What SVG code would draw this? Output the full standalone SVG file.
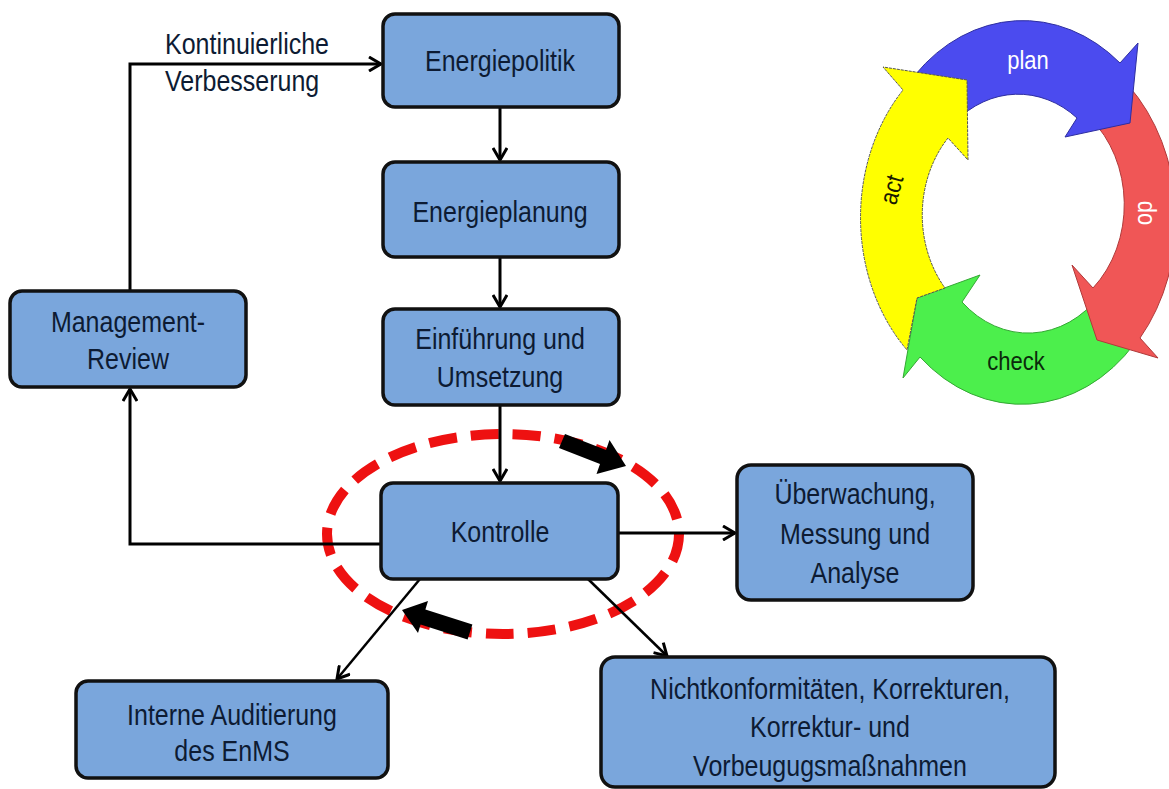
<svg xmlns="http://www.w3.org/2000/svg" width="1169" height="789" viewBox="0 0 1169 789">
<style>
.box{fill:#7aa6dc;stroke:#111;stroke-width:3.5}
.t{font-family:"Liberation Sans",Arial,sans-serif;font-size:25px;fill:#0d1b33;text-anchor:middle}
.c{fill:none;stroke:#000;stroke-width:3}
.cd{fill:none;stroke:#000;stroke-width:2.5}
.p{font-family:"Liberation Sans",Arial,sans-serif;font-size:22px;text-anchor:middle}
</style>
<defs>
<marker id="ah" markerUnits="userSpaceOnUse" viewBox="0 0 16 16" refX="14" refY="8" markerWidth="16" markerHeight="16" orient="auto">
<path d="M2,1 L14,8 L2,15" fill="none" stroke="#000" stroke-width="3"/>
</marker>
</defs>
<rect width="1169" height="789" fill="#fff"/>

<g id="focus">
<ellipse cx="503" cy="534" rx="176" ry="100" fill="none" stroke="#ee1111" stroke-width="10" stroke-dasharray="28 14"/>
<path d="M565,434 L606,450 L609.5,440 L626,466 L596.5,474 L600,464 L559,448 Z" fill="#000"/>
<path d="M472.4,624.4 L425.4,609.4 L428,601 L402,610 L418,633 L420.6,624.6 L467.6,639.6 Z" fill="#000"/>
</g>

<g id="connectors">
<path class="c" d="M500,107 V160" marker-end="url(#ah)"/>
<path class="c" d="M500,257 V307" marker-end="url(#ah)"/>
<path class="c" d="M500,405 V481" marker-end="url(#ah)"/>
<path class="c" d="M381,544 H130 V389" marker-end="url(#ah)"/>
<path class="c" d="M130,291 V64 H381" marker-end="url(#ah)"/>
<path class="c" d="M618,533 H735" marker-end="url(#ah)"/>
<path class="cd" d="M420,579 L337,679" marker-end="url(#ah)"/>
<path class="cd" d="M588,579 L667,656" marker-end="url(#ah)"/>
<text class="t" transform="translate(247,54) scale(1,1.15)">Kontinuierliche</text>
<text class="t" style="text-anchor:start" transform="translate(165,91) scale(1,1.15)">Verbesserung</text>
</g>

<g id="energiepolitik">
<rect class="box" x="383" y="14" width="236" height="93" rx="12"/>
<text class="t" transform="translate(500,71) scale(1,1.15)">Energiepolitik</text>
</g>
<g id="energieplanung">
<rect class="box" x="383" y="162" width="236" height="95" rx="12"/>
<text class="t" transform="translate(500,222) scale(1,1.15)">Energieplanung</text>
</g>
<g id="einfuehrung">
<rect class="box" x="383" y="309" width="236" height="96" rx="12"/>
<text class="t" transform="translate(500,349) scale(1,1.15)">Einführung  und</text>
<text class="t" transform="translate(500,387) scale(1,1.15)">Umsetzung</text>
</g>
<g id="kontrolle">
<rect class="box" x="381" y="483" width="237" height="96" rx="12"/>
<text class="t" transform="translate(500,542) scale(1,1.15)">Kontrolle</text>
</g>
<g id="management">
<rect class="box" x="10" y="291" width="236" height="96" rx="12"/>
<text class="t" transform="translate(128,332) scale(1,1.15)">Management-</text>
<text class="t" transform="translate(128,369) scale(1,1.15)">Review</text>
</g>
<g id="ueberwachung">
<rect class="box" x="737" y="465" width="236" height="135" rx="14"/>
<text class="t" transform="translate(855,504) scale(1,1.15)">Überwachung,</text>
<text class="t" transform="translate(855,544) scale(1,1.15)">Messung und</text>
<text class="t" transform="translate(855,583) scale(1,1.15)">Analyse</text>
</g>
<g id="audit">
<rect class="box" x="76" y="681" width="312" height="97" rx="12"/>
<text class="t" transform="translate(232,725) scale(1,1.15)">Interne Auditierung</text>
<text class="t" transform="translate(232,761) scale(1,1.15)">des EnMS</text>
</g>
<g id="nichtkonform">
<rect class="box" x="601" y="657" width="454" height="130" rx="14"/>
<text class="t" transform="translate(830,699) scale(1,1.15)">Nichtkonformitäten,  Korrekturen,</text>
<text class="t" transform="translate(830,737) scale(1,1.15)">Korrektur- und</text>
<text class="t" transform="translate(830,776) scale(1,1.15)">Vorbeugugsmaßnahmen</text>
</g>

<g id="pdca">
<path d="M917,298 L903,378 L920,357 A152 184 0 0 0 1135,343 L1100,295 A96 113 0 0 1 962,302 L980,275 Z" fill="#4cef4c" stroke="#34a834" stroke-width="1"/>
<path d="M1097,340 L1072,265 L1093,288 A96 113 0 0 0 1090,118 L1128,85 A152 184 0 0 1 1140,338 L1158,358 Z" fill="#f05656" stroke="#b03a3a" stroke-width="1"/>
<path d="M1130,123 L1065,137 L1077,118 A96 113 0 0 0 955,122 L915,75 A152 184 0 0 1 1120,63 L1138,43 Z" fill="#4b4bef" stroke="#2e2ea0" stroke-width="1"/>
<path d="M967,80 L883,67 L903,90 A152 184 0 0 0 907,350 L917,298 L945,288 A96 113 0 0 1 948,138 L968,160 Z" fill="#ffff00" stroke="#555" stroke-width="1" stroke-dasharray="3 1"/>
<text class="p" fill="#fff" transform="translate(1028,69) scale(1,1.15)">plan</text>
<text class="p" fill="#0b2a0b" transform="translate(1016,370) scale(1,1.15)">check</text>
<text class="p" fill="#fff" transform="translate(1145,213) rotate(90) translate(0,7) scale(1,1.15)">do</text>
<text class="p" fill="#1a1a00" transform="translate(893,190) rotate(-74) translate(0,7) scale(1,1.15)">act</text>
</g>
</svg>
